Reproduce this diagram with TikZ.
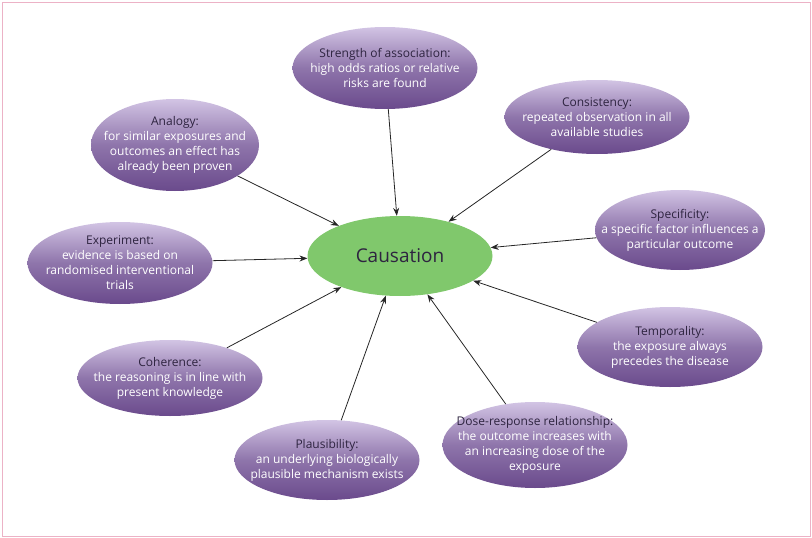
\documentclass[tikz,border=0pt]{standalone}
\usepackage{fontspec}
\setmainfont{Open Sans}
\usetikzlibrary{shapes.geometric,arrows.meta}
\definecolor{ptop}{HTML}{D2C4E4}
\definecolor{pbot}{HTML}{6A4A8C}
\definecolor{ttl}{HTML}{2E2440}
\tikzset{
 bub/.style={ellipse,draw=none,top color=ptop,bottom color=pbot,middle color=pbot!65!ptop,inner sep=0pt},
 btxt/.style={align=center,font=\fontsize{12}{15}\selectfont,text=white,inner sep=0pt},
 con/.style={-{Stealth[length=8pt,width=6pt]},line width=0.8pt,black!85}
}
\newcommand{\ttlx}[1]{\textcolor{ttl}{#1}}
\newcommand{\bubble}[5]{\node[bub,minimum width=#3,minimum height=#4] (#1) at (#2) {}; \node[btxt] at (#2) {#5};}
\begin{document}
\begin{tikzpicture}[x=1pt,y=-1pt]
\useasboundingbox (0,0) rectangle (812,538);
\draw[draw=purple!30,line width=1pt] (2,2) rectangle (810,536);
\node[ellipse,fill={rgb,255:red,128;green,200;blue,108},minimum width=185pt,minimum height=80pt,inner sep=0pt,font=\fontsize{19}{22}\selectfont,text=ttl] (c) at (400,256) {Causation};
\bubble{s}{385,68}{185pt}{82pt}{\ttlx{Strength of association:}\\high odds ratios or relative\\risks are found}
\bubble{k}{597,117}{185pt}{74pt}{\ttlx{Consistency:}\\repeated observation in all\\available studies}
\bubble{a}{175,145}{168pt}{92pt}{\ttlx{Analogy:}\\for similar exposures and\\outcomes an effect has\\already been proven}
\bubble{sp}{680,230}{170pt}{80pt}{\ttlx{Specificity:}\\a specific factor influences a\\particular outcome}
\bubble{e}{120,263}{185pt}{82pt}{\ttlx{Experiment:}\\evidence is based on\\randomised interventional\\trials}
\bubble{t}{670,347}{185pt}{80pt}{\ttlx{Temporality:}\\the exposure always\\precedes the disease}
\bubble{co}{170,378}{185pt}{76pt}{\ttlx{Coherence:}\\the reasoning is in line with\\present knowledge}
\bubble{d}{535,445}{185pt}{86pt}{\ttlx{Dose-response relationship:}\\the outcome increases with\\an increasing dose of the\\exposure}
\bubble{p}{327,460}{185pt}{80pt}{\ttlx{Plausibility:}\\an underlying biologically\\plausible mechanism exists}
\foreach \n in {s,k,a,sp,e,t,co,d,p} \draw[con] (\n) -- (c);
\end{tikzpicture}
\end{document}
